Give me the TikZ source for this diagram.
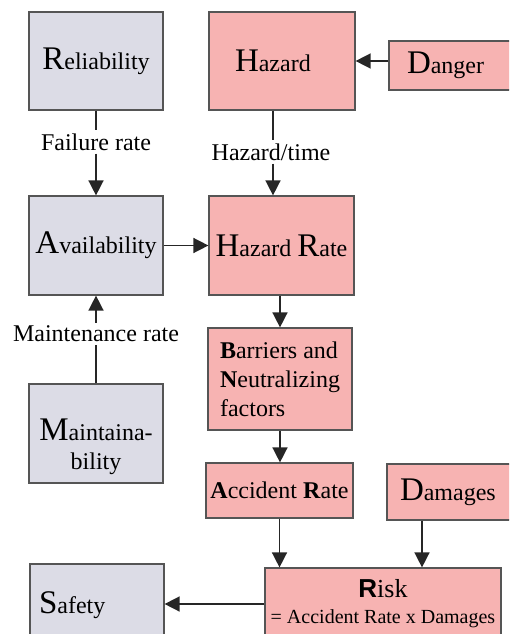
\documentclass[tikz,border=0pt]{standalone}
\usepackage{fontspec}
\setmainfont{LiberationSerif}[Extension=.ttf, UprightFont=*-Regular, BoldFont=*-Bold, ItalicFont=*-Italic, BoldItalicFont=*-BoldItalic]
\setsansfont{LiberationSans}[Extension=.ttf, UprightFont=*-Regular, BoldFont=*-Bold, ItalicFont=*-Italic, BoldItalicFont=*-BoldItalic]
\usetikzlibrary{arrows.meta}
\definecolor{greyfill}{HTML}{DCDCE6}
\definecolor{pinkfill}{HTML}{F7B3B2}
\definecolor{boxline}{HTML}{555555}
% enlarged initial letter of a box title
\newcommand\initial[1]{{\fontsize{33}{33}\selectfont #1}}
\begin{document}
\begin{tikzpicture}[x=1pt,y=-1pt,
  box/.style={draw=boxline, line width=1.2pt, inner sep=0pt,
    font=\rmfamily\fontsize{24}{29}\selectfont},
  grey/.style={box, fill=greyfill},
  pink/.style={box, fill=pinkfill},
  lbl/.style={font=\rmfamily\fontsize{24}{29}\selectfont, inner sep=3pt},
  link/.style={draw=black!85, line width=1.5pt},
  arr/.style={link, -{Triangle[length=15pt,width=15pt]}}]
\useasboundingbox (0,0) rectangle (509,634);
\clip (0,0) rectangle (509,634);

% left column
\node[grey, minimum width=134pt, minimum height=98pt] (rel) at (96,61) {\initial{R}eliability};
\node[grey, minimum width=134pt, minimum height=99pt] (avail) at (96,245.5) {\initial{A}vailability};
\node[grey, minimum width=134pt, minimum height=99pt, align=center] (maint) at (96,433.5) {\rule{0pt}{48pt}\initial{M}aintaina-\\bility};
\node[grey, minimum width=134pt, minimum height=82pt, inner xsep=9pt, text width=116pt, align=left] (safety) at (97,605) {\initial{S}afety};

% right column
\node[pink, minimum width=146pt, minimum height=98pt, inner xsep=26pt, text width=94pt, align=left] (hazard) at (282,61) {\initial{H}azard};
\node[pink, minimum width=140pt, minimum height=49pt, inner xsep=18pt, text width=104pt, align=left] (danger) at (459,65.5) {\initial{D}anger};
\node[pink, minimum width=145pt, minimum height=99pt] (hazrate) at (281.5,245.5) {\initial{H}azard \initial{R}ate};
\node[pink, minimum width=144pt, minimum height=102pt, align=left] (barriers) at (280,379) {\textbf{B}arriers and\\\textbf{N}eutralizing\\factors};
\node[pink, minimum width=147pt, minimum height=55pt] (accident) at (279.5,490.5) {\textbf{A}ccident \textbf{R}ate};
\node[pink, minimum width=140pt, minimum height=56pt, inner xsep=13pt, text width=114pt, align=left] (damages) at (457,492) {\initial{D}amages};
\node[pink, minimum width=236pt, minimum height=72pt, align=center, font=\rmfamily\fontsize{20}{26}\selectfont] (risk) at (383,604)
  {{\fontsize{26}{26}\selectfont{\sffamily\bfseries R}isk}\\= Accident Rate x Damages};

% connector labels
\node[lbl] (lab1) at (96,142) {Failure rate};
\node[lbl] (lab2) at (271,152) {Hazard/time};
\node[lbl] (lab3) at (96,334) {Maintenance rate};
\coordinate (hx) at (273,0);
\coordinate (dx) at (422,0);

% connectors
\draw[link] (rel) -- (lab1);
\draw[arr] (lab1) -- (avail);
\draw[link] (maint) -- (lab3);
\draw[arr] (lab3) -- (avail);
\draw[link] (hazard.south -| hx) -- (lab2.north -| hx);
\draw[arr] (lab2.south -| hx) -- (hazrate.north -| hx);
\draw[arr] (hazard.east -| danger.west) -- (hazard.east);
\draw[arr] (avail) -- (hazrate);
\draw[arr] (barriers.north |- hazrate.south) -- (barriers.north);
\draw[arr] (barriers.south) -- (barriers.south |- accident.north);
\draw[arr] (accident.south) -- (accident.south |- risk.north);
\draw[arr] (damages.south -| dx) -- (risk.north -| dx);
\draw[arr] (risk.west) -- (risk.west -| safety.east);
\end{tikzpicture}
\end{document}
